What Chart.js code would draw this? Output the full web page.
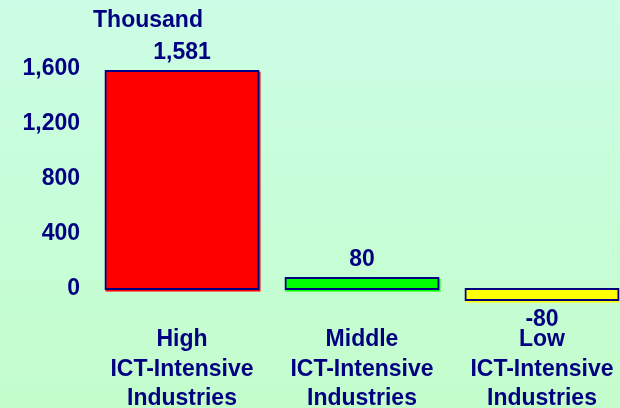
<!DOCTYPE html>
<html>
<head>
<meta charset="utf-8">
<script src="https://cdn.jsdelivr.net/npm/chart.js@4/dist/chart.umd.min.js"></script>
<style>
  html, body { margin: 0; padding: 0; overflow: hidden; width: 620px; height: 408px; }
  body { background: linear-gradient(to bottom, #ccfde6 0%, #c6fdd6 60%, #c4fdcc 100%); }
  canvas { display: block; }
</style>
</head>
<body>
<canvas id="chart" width="640" height="408"></canvas>
<script>
// Employment change by ICT intensity (thousand)
const categories = [
  ['High', 'ICT-Intensive', 'Industries'],
  ['Middle', 'ICT-Intensive', 'Industries'],
  ['Low', 'ICT-Intensive', 'Industries']
];
const values = [1581, 80, -80];
const valueLabels = ['1,581', '80', '-80'];
const barColors = ['#ff0000', '#00ff00', '#ffff00'];
const yTicks = [0, 400, 800, 1200, 1600];
const yTickLabels = ['0', '400', '800', '1,200', '1,600'];
const unitLabel = 'Thousand';

const NAVY = '#000080';
const FONT = { family: '"Liberation Sans", Arial, sans-serif', size: 23, weight: 'bold' };

// Thin offset shadow in each bar's own colour, drawn under the bars
const barShadow = {
  id: 'barShadow',
  beforeDatasetsDraw(chart) {
    const ctx = chart.ctx;
    const meta = chart.getDatasetMeta(0);
    ctx.save();
    meta.data.forEach((el, i) => {
      const p = el.getProps(['x', 'y', 'base', 'width'], true);
      const top = Math.min(p.y, p.base);
      const h = Math.abs(p.base - p.y) + 2;
      ctx.fillStyle = barColors[i];
      ctx.fillRect(p.x - p.width / 2, top + 0.5, p.width + 2, h);
    });
    ctx.restore();
  }
};

// Value labels above / below each bar, plus the unit caption over the axis
const barLabels = {
  id: 'barLabels',
  afterDatasetsDraw(chart) {
    const ctx = chart.ctx;
    const meta = chart.getDatasetMeta(0);
    ctx.save();
    ctx.font = `${FONT.weight} ${FONT.size}px ${FONT.family}`;
    ctx.fillStyle = NAVY;
    ctx.textAlign = 'center';
    ctx.textBaseline = 'middle';
    meta.data.forEach((el, i) => {
      const v = values[i];
      const y = v >= 0 ? el.y - 18 : el.y + 19.5;
      ctx.fillText(valueLabels[i], el.x, y);
    });
    const area = chart.chartArea;
    ctx.fillText(unitLabel, area.left + 56, 21);
    ctx.restore();
  }
};

new Chart(document.getElementById('chart'), {
  type: 'bar',
  data: {
    labels: categories,
    datasets: [{
      data: values,
      backgroundColor: barColors,
      borderColor: NAVY,
      borderWidth: 2,
      borderSkipped: false,
      inflateAmount: 1,
      categoryPercentage: 1,
      barPercentage: 0.85
    }]
  },
  options: {
    responsive: false,
    animation: false,
    layout: { padding: { top: 68.5, right: 8, bottom: 0, left: 0 } },
    plugins: { legend: { display: false }, tooltip: { enabled: false } },
    scales: {
      x: {
        grid: { display: false },
        border: { display: false },
        ticks: {
          color: NAVY,
          font: Object.assign({ lineHeight: 1.28 }, FONT),
          padding: 0.5,
          maxRotation: 0,
          autoSkip: false
        },
        afterFit(scale) { scale.height = 91.4; }
      },
      y: {
        min: -200,
        max: 1600,
        grid: { display: false, drawTicks: false },
        border: { display: false },
        afterBuildTicks(scale) { scale.ticks = yTicks.map(v => ({ value: v })); },
        ticks: {
          color: NAVY,
          font: FONT,
          padding: 12,
          callback(value) {
            const i = yTicks.indexOf(value);
            return i >= 0 ? yTickLabels[i] : '';
          }
        },
        afterFit(scale) { scale.width = 92; }
      }
    }
  },
  plugins: [barShadow, barLabels]
});
</script>
</body>
</html>
